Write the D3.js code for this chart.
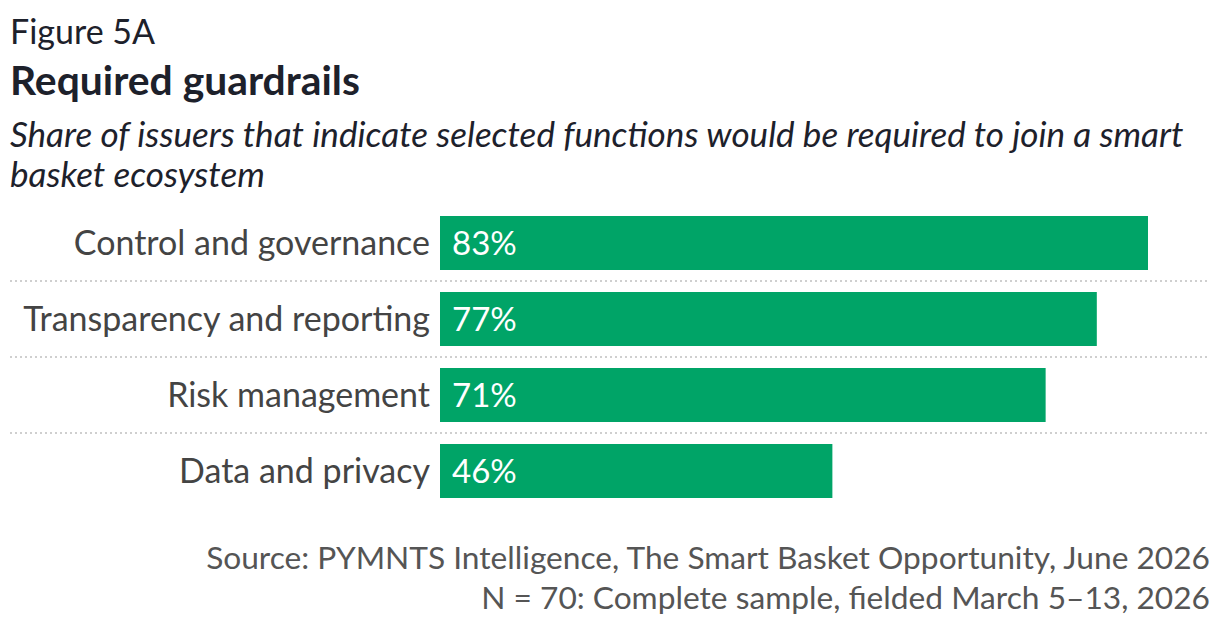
<!DOCTYPE html>
<html><head><meta charset="utf-8">
<script src="https://cdn.jsdelivr.net/npm/d3@7"></script>
<style>
html,body{margin:0;padding:0;background:#fff;}
text{font-family:Lato,"Noto Sans",sans-serif;}
</style></head>
<body>
<svg id="chart" width="1220" height="626"></svg>
<script>
const figureLabel = "Figure 5A";
const title = "Required guardrails";
const subtitleLines = ["Share of issuers that indicate selected functions would be required to join a smart", "basket ecosystem"];
const categories = ["Control and governance", "Transparency and reporting", "Risk management", "Data and privacy"];
const values = [83, 77, 71, 46];
const sourceLines = ["Source: PYMNTS Intelligence, The Smart Basket Opportunity, June 2026", "N = 70: Complete sample, fielded March 5\u201313, 2026"];

const svg = d3.select("#chart");
const x = d3.scaleLinear().domain([0, 100]).range([440, 1293]);
const y = d3.scaleBand().domain(categories).range([205, 509]).paddingInner(22/76).paddingOuter(11/76);

svg.append("text").attr("x", 10).attr("y", 44).attr("font-size", 34).attr("fill", "#1d212b").text(figureLabel);
svg.append("text").attr("x", 10).attr("y", 95).attr("font-size", 40.8).attr("font-weight", 700).attr("fill", "#1d212b").text(title);
subtitleLines.forEach((t, i) => {
  svg.append("text").attr("x", 10).attr("y", 147 + i*40).attr("font-size", 35.1).attr("font-style", "italic").attr("fill", "#1d212b").text(t);
});

const step = y.step();
categories.slice(1).forEach(c => {
  const gy = y(c) - (step - y.bandwidth())/2;
  svg.append("line").attr("x1", 10).attr("x2", 1209).attr("y1", gy).attr("y2", gy)
    .attr("stroke", "#cfcfcf").attr("stroke-width", 2).attr("stroke-dasharray", "2,3");
});

const g = svg.append("g");
g.selectAll("rect").data(values).join("rect")
  .attr("x", x(0)).attr("y", (d,i) => y(categories[i]))
  .attr("width", d => x(d) - x(0)).attr("height", y.bandwidth())
  .attr("fill", "#00a467");

g.selectAll("text.val").data(values).join("text").attr("class", "val")
  .attr("x", x(0) + 12).attr("y", (d,i) => y(categories[i]) + y.bandwidth()/2)
  .attr("dy", "0.36em").attr("font-size", 33).attr("fill", "#fff").text(d => d + "%");

g.selectAll("text.cat").data(categories).join("text").attr("class", "cat")
  .attr("x", 430).attr("y", d => y(d) + y.bandwidth()/2)
  .attr("dy", "0.36em").attr("text-anchor", "end").attr("font-size", 34).attr("fill", "#444").text(d => d);

sourceLines.forEach((t, i) => {
  svg.append("text").attr("x", 1210).attr("y", 569 + i*40).attr("text-anchor", "end")
    .attr("font-size", 31.7).attr("fill", "#555").text(t);
});
</script>
</body></html>
